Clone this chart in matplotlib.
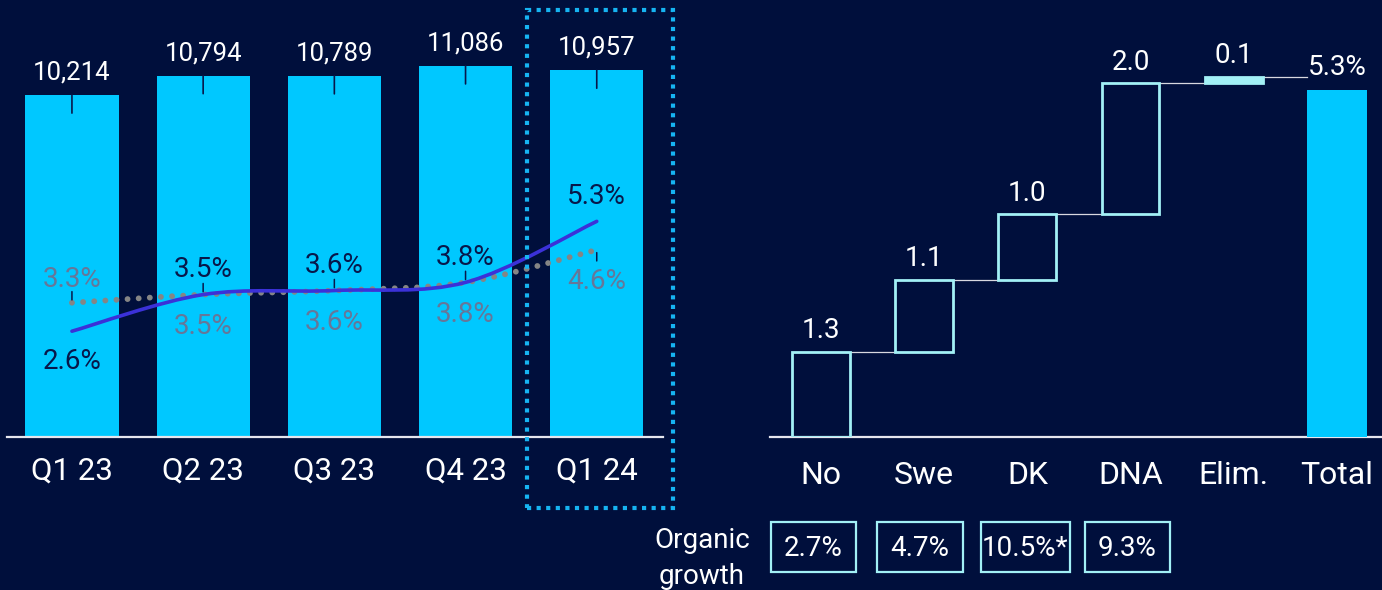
import matplotlib
matplotlib.use("Agg")
import matplotlib.pyplot as plt
from matplotlib.path import Path
from matplotlib.patches import PathPatch, Rectangle
import numpy as np

# ---- data -------------------------------------------------------------
quarters = ["Q1 23", "Q2 23", "Q3 23", "Q4 23", "Q1 24"]
revenue = [10214, 10794, 10789, 11086, 10957]
growth_reported = [2.6, 3.5, 3.6, 3.8, 5.3]
growth_organic = [3.3, 3.5, 3.6, 3.8, 4.6]

segments = ["No", "Swe", "DK", "DNA", "Elim.", "Total"]
contributions = [1.3, 1.1, 1.0, 2.0, 0.1]
total_growth = 5.3
organic_growth = ["2.7%", "4.7%", "10.5%*", "9.3%"]

# ---- style ------------------------------------------------------------
BG = "#000F3C"
BAR = "#00C8FF"
BOX = "#A2F0F6"
WHITE = "#FFFFFF"
NAVY = "#08174A"
LINE = "#3B31D8"
DOTS = "#858585"
DOTLBL = "#667799"
HILITE = "#16B4F2"

plt.rcParams["font.family"] = ["Roboto", "DejaVu Sans"]

W, H = 1382, 590
fig = plt.figure(figsize=(W / 100, H / 100), dpi=100, facecolor=BG)


def px_axes(x0, y_top, x1, y_base):
    return fig.add_axes([x0 / W, (H - y_base) / H, (x1 - x0) / W, (y_base - y_top) / H])


def smooth_path(xs, ys):
    """Catmull-Rom style cubic Bezier through the points."""
    pts = np.column_stack([xs, ys]).astype(float)
    ext = np.vstack([pts[0], pts, pts[-1]])
    verts = [tuple(pts[0])]
    codes = [Path.MOVETO]
    for i in range(len(pts) - 1):
        p0, p1, p2, p3 = ext[i], ext[i + 1], ext[i + 2], ext[i + 3]
        c1 = p1 + (p2 - p0) / 6.0
        c2 = p2 - (p3 - p1) / 6.0
        verts += [tuple(c1), tuple(c2), tuple(p2)]
        codes += [Path.CURVE4] * 3
    return Path(verts, codes)


# ---- left: quarterly revenue with growth lines ----------------------------
ax = px_axes(7, 0, 663, 437)
ax.set_facecolor(BG)
x = np.arange(len(quarters))
ax.bar(x, revenue, width=0.71, color=BAR, zorder=2)
ax.set_xlim(-0.495, 4.505)
ax.set_ylim(0, 13053)
for s in ["top", "right", "left"]:
    ax.spines[s].set_visible(False)
ax.spines["bottom"].set_color("#E6E6EE")
ax.spines["bottom"].set_linewidth(1.6)
ax.set_yticks([])
ax.set_xticks(x)
ax.set_xticklabels(quarters, fontsize=22.5, color=WHITE)
ax.tick_params(axis="x", length=0, pad=14)

for xi, v in zip(x, revenue):
    ax.annotate(f"{v:,}", (xi, v), xytext=(0, 16), textcoords="offset points",
                ha="center", va="center", fontsize=18.5, color=WHITE)
    ax.annotate("", (xi, v), xytext=(0, -13), textcoords="offset points",
                arrowprops=dict(arrowstyle="-", color=NAVY, lw=1.2,
                                shrinkA=0, shrinkB=0), zorder=3)

ax2 = ax.twinx()
ax2.set_ylim(0, 10.74)
ax2.set_xlim(ax.get_xlim())
ax2.axis("off")

ax2.add_patch(PathPatch(smooth_path(x, growth_organic), fill=False, edgecolor=DOTS,
                        lw=4.2, linestyle=(0, (0.01, 1.9)), capstyle="round", zorder=3))
ax2.add_patch(PathPatch(smooth_path(x, growth_reported), fill=False, edgecolor=LINE,
                        lw=2.6, capstyle="round", zorder=4))

reported_pos = ["below", "above", "above", "above", "above"]
organic_pos = ["above", "below", "below", "below", "below"]
for xi, v, p in zip(x, growth_reported, reported_pos):
    dy = 18 if p == "above" else -22
    ax2.annotate(f"{v:.1f}%", (xi, v), xytext=(0, dy), textcoords="offset points",
                 ha="center", va="center", fontsize=20, color=NAVY)
for xi, v, p in zip(x, growth_organic, organic_pos):
    dy = 17 if p == "above" else -23
    ax2.annotate(f"{v:.1f}%", (xi, v), xytext=(0, dy), textcoords="offset points",
                 ha="center", va="center", fontsize=20, color=DOTLBL)

# short leader ticks between labels and points
for xi, v, dy in [(0, growth_organic[0], 8), (1, growth_reported[1], 8),
                  (2, growth_reported[2], 8), (3, growth_reported[3], 8),
                  (4, growth_organic[4], -8)]:
    ax2.annotate("", (xi, v), xytext=(0, dy), textcoords="offset points",
                 arrowprops=dict(arrowstyle="-", color=NAVY, lw=1.1,
                                 shrinkA=0, shrinkB=2))

# dotted highlight around the latest quarter
fig.patches.append(Rectangle((527 / W, (H - 508) / H), 146 / W, 498 / H,
                             transform=fig.transFigure, fill=False, edgecolor=HILITE,
                             lw=3.0, linestyle=(0, (1.0, 1.3)), capstyle="butt"))

# ---- right: growth bridge -------------------------------------------------
bx = px_axes(770, 0, 1382, 437)
bx.set_facecolor(BG)
bx.set_xlim(-0.494, 5.436)
bx.set_ylim(0, 6.67)
for s in ["top", "right", "left"]:
    bx.spines[s].set_visible(False)
bx.spines["bottom"].set_color("#E6E6EE")
bx.spines["bottom"].set_linewidth(1.6)
bx.set_yticks([])
bx.set_xticks(np.arange(len(segments)))
bx.set_xticklabels(segments, fontsize=23, color=WHITE)
bx.tick_params(axis="x", length=0, pad=17)

bw = 0.56
bottoms = np.concatenate([[0], np.cumsum(contributions)[:-1]])
tops = bottoms + np.array(contributions)
for i, (b, v) in enumerate(zip(bottoms, contributions)):
    filled = i == len(contributions) - 1
    bx.bar(i, v, bottom=b, width=bw, color=BOX if filled else "none",
           edgecolor=BOX, linewidth=2.0, zorder=3)
    bx.annotate(f"{v:.1f}", (i, b + v), xytext=(0, 15), textcoords="offset points",
                ha="center", va="center", fontsize=20, color=WHITE)
ti = len(contributions)
bx.bar(ti, total_growth, width=0.58, color=BAR, zorder=3)
bx.annotate(f"{total_growth:.1f}%", (ti, total_growth), xytext=(0, 16),
            textcoords="offset points", ha="center", va="center", fontsize=20, color=WHITE)

# connectors between steps
for i, t in enumerate(tops):
    right_next = (i + 1) - (0.58 if i + 1 == ti else bw) / 2
    bx.plot([i + bw / 2, right_next], [t, t], color="#D8D8E0", lw=0.9, zorder=2)

# ---- organic growth row -------------------------------------------------
fig.text(702 / W, 1 - 540 / H, "Organic", ha="center", va="center", fontsize=20, color=WHITE)
fig.text(702 / W, 1 - 576 / H, "growth", ha="center", va="center", fontsize=20, color=WHITE)
box_x = [(771, 856), (877, 963), (981, 1070), (1085, 1170)]
for (x0, x1), txt in zip(box_x, organic_growth):
    fig.patches.append(Rectangle((x0 / W, (H - 572) / H), (x1 - x0) / W, 50 / H,
                                 transform=fig.transFigure, fill=False,
                                 edgecolor=BOX, lw=1.6))
    fig.text((x0 + x1) / 2 / W, 1 - 548 / H, txt, ha="center", va="center",
             fontsize=20, color=WHITE)

fig.savefig("out.png", dpi=100, facecolor=BG)
